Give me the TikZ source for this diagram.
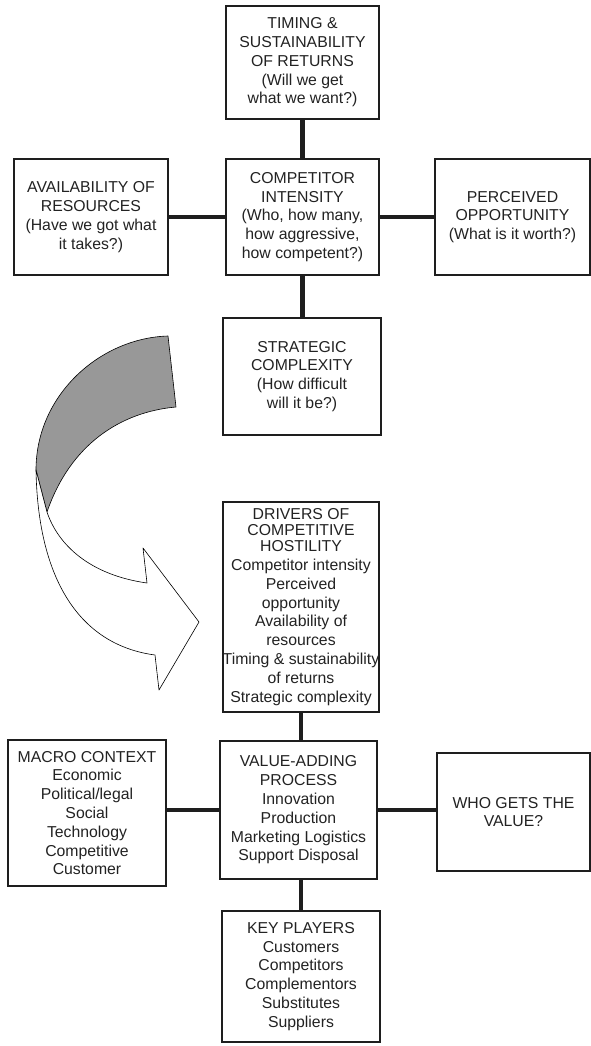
\documentclass[tikz,border=0pt]{standalone}
\usepackage{fontspec}
\setmainfont{Liberation Sans}
\definecolor{ribbongray}{RGB}{152,152,152}
\definecolor{inkline}{RGB}{30,30,30}
\definecolor{inktext}{RGB}{34,34,34}
\begin{document}
\begin{tikzpicture}[x=1pt,y=-1pt,
  box/.style={draw=inkline,line width=1.8pt,align=center,inner sep=0pt,
    text=inktext,font=\fontsize{15.8}{18.8}\selectfont},
  conn/.style={draw=inkline,line width=4.5pt},
  ribbon/.style={draw=black,line width=0.6pt,line join=round}]
\useasboundingbox (0,0) rectangle (591,1046);

% upper cluster
\node[box,minimum width=153,minimum height=113] (timing) at (302.5,62.5)
  {TIMING \&\\SUSTAINABILITY\\OF RETURNS\\(Will we get\\what we want?)};
\node[box,minimum width=153,minimum height=116] (comp) at (302.5,217)
  {COMPETITOR\\INTENSITY\\(Who, how many,\\how aggressive,\\how competent?)};
\node[box,minimum width=154,minimum height=116] (avail) at (91,217)
  {AVAILABILITY OF\\RESOURCES\\(Have we got what\\it takes?)};
\node[box,minimum width=155,minimum height=116] (perc) at (512.5,217)
  {PERCEIVED\\OPPORTUNITY\\(What is it worth?)};
\node[box,minimum width=158,minimum height=117] (strat) at (302,376.5)
  {STRATEGIC\\COMPLEXITY\\(How difficult\\will it be?)};

\draw[conn] (timing.south) -- (comp.north);
\draw[conn] (comp.south) -- (comp.south |- strat.north);
\draw[conn] (avail.east) -- (comp.west);
\draw[conn] (comp.east) -- (perc.west);

% lower cluster
\node[box,minimum width=156,minimum height=210] (drivers) at (301,607)
  {DRIVERS OF\\[-2.8pt]COMPETITIVE\\[-2.8pt]HOSTILITY\\Competitor intensity\\Perceived\\opportunity\\Availability of\\resources\\Timing \& sustainability\\of returns\\Strategic complexity};
\node[box,minimum width=157,minimum height=138] (value) at (298.5,810)
  {VALUE-ADDING\\PROCESS\\Innovation\\Production\\Marketing Logistics\\Support Disposal};
\node[box,minimum width=158,minimum height=146] (macro) at (87,813)
  {MACRO CONTEXT\\Economic\\Political/legal\\Social\\Technology\\Competitive\\Customer};
\node[box,minimum width=153,minimum height=118] (who) at (513.5,812)
  {WHO GETS THE\\VALUE?};
\node[box,minimum width=158,minimum height=131] (keyp) at (301,976.5)
  {KEY PLAYERS\\Customers\\Competitors\\Complementors\\Substitutes\\Suppliers};

\draw[conn] (drivers.south) -- (drivers.south |- value.north);
\draw[conn] (macro.east |- value.west) -- (value.west);
\draw[conn] (value.east) -- (value.east -| who.west);
\draw[conn] (value.south -| keyp.north) -- (keyp.north);

% twisted ribbon arrow: shaded back face, then white front face with head
\draw[ribbon,fill=ribbongray] (168,336) .. controls (100,338) and (36,395) .. (36,470)
  -- (47,512) .. controls (70,445) and (120,412) .. (176,407) -- cycle;
\draw[ribbon,fill=white] (36,470) .. controls (38,580) and (80,645) .. (155,655)
  -- (159,690) -- (199,622) -- (143,548) -- (147,583)
  .. controls (90,575) and (58,545) .. (47,512) -- cycle;
\end{tikzpicture}
\end{document}
